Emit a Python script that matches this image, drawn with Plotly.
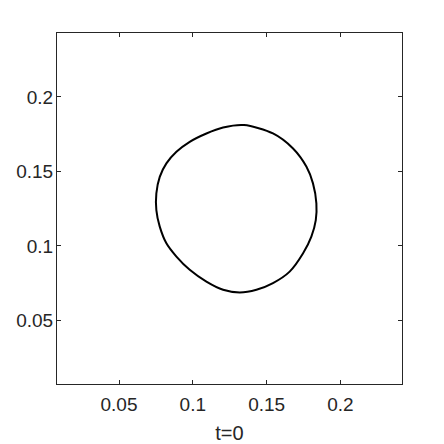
import plotly.graph_objects as go

# boundary of the blob at t=0
curve_x = [0.1347, 0.1543, 0.1679, 0.1770, 0.1814, 0.1837, 0.1833, 0.1803, 0.1747, 0.1656,
           0.1543, 0.1431, 0.1318, 0.1205, 0.1092, 0.0979, 0.0889, 0.0821, 0.0776, 0.0753,
           0.0753, 0.0776, 0.0821, 0.0889, 0.0979, 0.1092, 0.1205, 0.1347]
curve_y = [0.1811, 0.1755, 0.1654, 0.1531, 0.1420, 0.1286, 0.1174, 0.1063, 0.0951, 0.0828,
           0.0751, 0.0706, 0.0688, 0.0706, 0.0761, 0.0840, 0.0929, 0.1018, 0.1130, 0.1241,
           0.1353, 0.1464, 0.1554, 0.1632, 0.1699, 0.1755, 0.1795, 0.1811]

tick_vals = [0.05, 0.1, 0.15, 0.2]
tick_text = ["0.05", "0.1", "0.15", "0.2"]

font = "Liberation Sans, Arial"

fig = go.Figure()
fig.add_trace(go.Scatter(x=curve_x, y=curve_y, mode="lines",
                         line=dict(color="black", width=2, shape="spline", smoothing=0.8),
                         showlegend=False))

axis_style = dict(showgrid=False, zeroline=False, showline=True, linecolor="#262626",
                  linewidth=1, mirror="ticks", ticks="inside", ticklen=4, tickcolor="#262626",
                  tickvals=tick_vals, ticktext=tick_text, automargin=False,
                  tickfont=dict(family=font, size=19, color="#262626"))

fig.update_xaxes(range=[0.0080, 0.2417], ticklabelstandoff=3,
                 title=dict(text="t=0", standoff=12, font=dict(family=font, size=20, color="#262626")),
                 **axis_style)
fig.update_yaxes(range=[0.0074, 0.2429], ticklabelstandoff=-1, **axis_style)

# page body has an 8px margin, so the figure is drawn 8px smaller and shifted
fig.update_layout(width=436, height=436, margin=dict(l=49, r=42, t=25, b=60),
                  paper_bgcolor="white", plot_bgcolor="white")

fig.write_html("out.html")
